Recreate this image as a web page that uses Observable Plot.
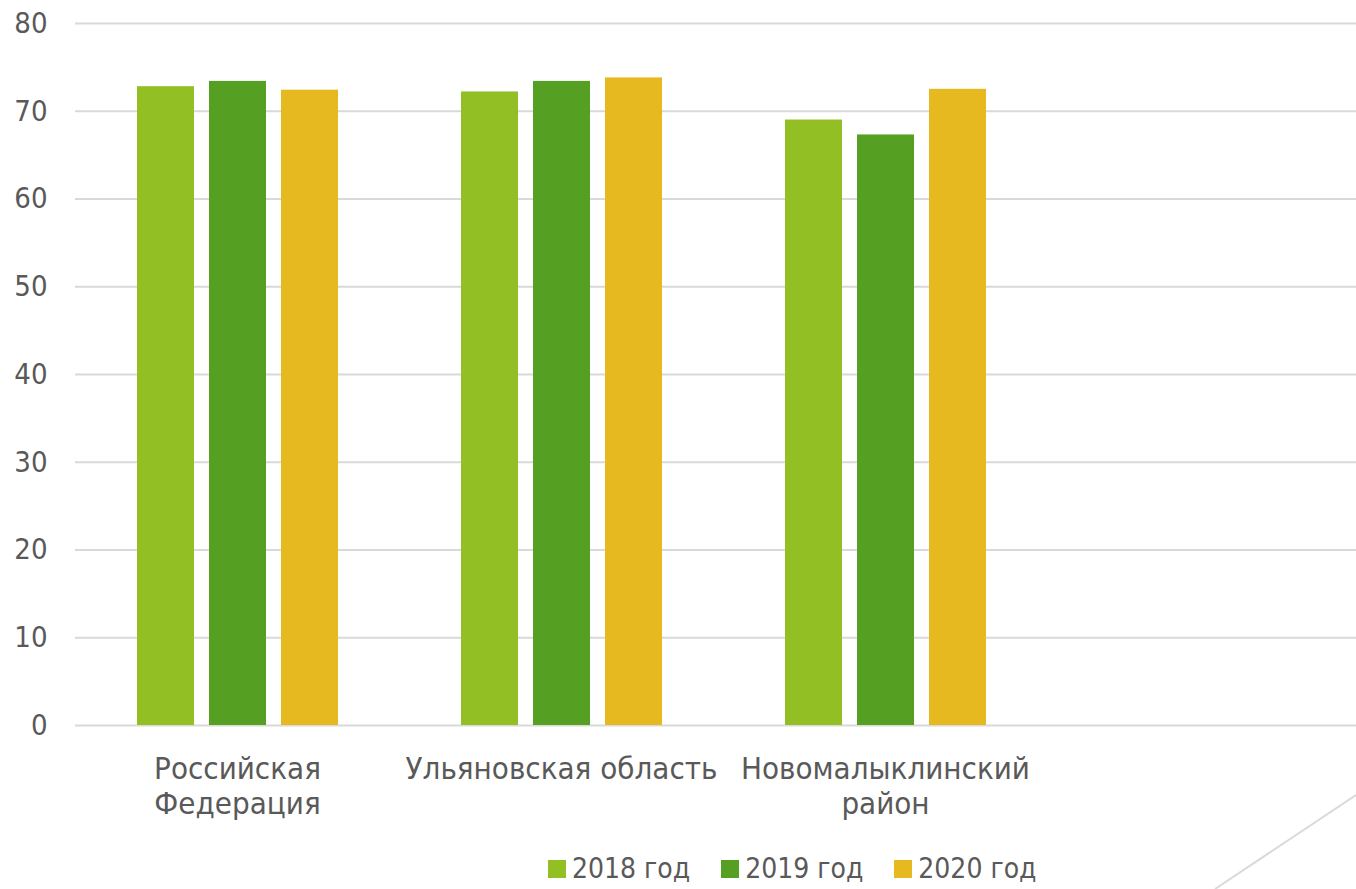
<!DOCTYPE html>
<html><head><meta charset="utf-8">
<script src="https://cdn.jsdelivr.net/npm/d3@7"></script>
<script src="https://cdn.jsdelivr.net/npm/@observablehq/plot@0.6"></script>
<style>
html,body{margin:0;padding:0;background:#fff;width:1356px;height:889px;overflow:hidden;position:relative;font-family:"DejaVu Sans Condensed","DejaVu Sans",sans-serif;}
#chart svg{max-width:none !important;}
#legend{position:absolute;left:548px;top:852px;display:flex;align-items:center;color:#595959;font-size:28px;font-family:"DejaVu Sans Condensed",sans-serif;}
#legend .it{display:flex;align-items:center;margin-right:31px;}
#legend .sw{width:18px;height:18px;margin-right:6px;}
#deco{position:absolute;left:0;top:0;}
</style></head>
<body>
<div id="chart"></div>
<div id="legend"></div>
<svg id="deco" width="1356" height="889"><line x1="1215" y1="889" x2="1356" y2="795" stroke="#d9d9d9" stroke-width="2"/></svg>
<script>
const categories = ["Российская Федерация", "Ульяновская область", "Новомалыклинский район", ""];
const categoryLabels = ["Российская\nФедерация", "Ульяновская область", "Новомалыклинский\nрайон", ""];
const years = ["2018 год", "2019 год", "2020 год"];
const colors = ["#92c024", "#55a022", "#e5b91f"];
const values2018 = [72.8, 72.2, 69.0];
const values2019 = [73.4, 73.4, 67.3];
const values2020 = [72.4, 73.8, 72.5];
const yTicks = [0, 10, 20, 30, 40, 50, 60, 70, 80];

const series = [values2018, values2019, values2020];
// bar layout inside each category band
const band = 324, barW = 57, step = 72, outer = 62;

const barMarks = series.map((vals, i) => {
  const rows = vals.map((v, j) => ({cat: categories[j], year: years[i], value: v}));
  const left = outer + i * step;
  return Plot.barY(rows, {x: "cat", y: "value", fill: colors[i],
    insetLeft: left, insetRight: band - left - barW});
});

const chart = Plot.plot({
  width: 1371,
  height: 845,
  marginLeft: 75,
  marginRight: 0,
  marginTop: 23,
  marginBottom: 120,
  style: {fontFamily: '"DejaVu Sans Condensed", sans-serif', color: "#595959", background: "white"},
  x: {domain: categories, padding: 0, label: null},
  y: {domain: [0, 80], label: null},
  marks: [
    Plot.gridY(yTicks, {stroke: "#d9d9d9", strokeOpacity: 1, strokeWidth: 2}),
    ...barMarks,
    Plot.axisY(yTicks, {tickSize: 0, tickPadding: 28, fontSize: 29, fill: "#595959", label: null}),
    Plot.axisX({tickSize: 0, tickPadding: 29, fontSize: 31, fill: "#595959", lineHeight: 1.12, label: null,
      tickFormat: d => categoryLabels[categories.indexOf(d)]})
  ]
});
document.getElementById("chart").appendChild(chart);

const lg = document.getElementById("legend");
years.forEach((yr, i) => {
  const it = document.createElement("div"); it.className = "it";
  const sw = document.createElement("div"); sw.className = "sw"; sw.style.background = colors[i];
  const t = document.createElement("span"); t.textContent = yr;
  it.appendChild(sw); it.appendChild(t); lg.appendChild(it);
});
</script>
</body></html>
